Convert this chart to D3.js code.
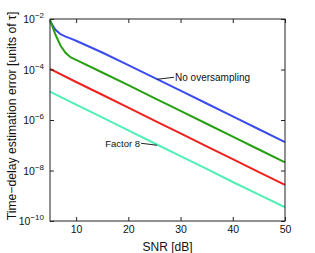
<!DOCTYPE html>
<html>
  <head>
    <meta charset="utf-8">
    <script src="https://cdn.jsdelivr.net/npm/d3@7/dist/d3.min.js"></script>
    <style>
      body { margin: 0; background: #fff; }
      text { font-family: "Liberation Sans", Arial, sans-serif; fill: #111; }
      .axis path, .axis line { stroke: #222; }
    </style>
  </head>
  <body>
    <script>
      // SNR sample points [dB]
      const snrA = [5, 6, 7, 8, 9, 10, 15, 20, 25, 30, 35, 40, 45, 50];
      const snrB = [5, 10, 15, 20, 25, 30, 35, 40, 45, 50];

      const noOversampling = [8.3e-3, 3.8e-3, 2.5e-3, 2.0e-3, 1.66e-3, 1.38e-3, 4.7e-4, 1.48e-4, 4.7e-5, 1.45e-5, 4.5e-6, 1.38e-6, 4.3e-7, 1.32e-7];
      const factor2 = [9.3e-3, 2.5e-3, 8.9e-4, 4.5e-4, 3.0e-4, 2.4e-4, 7.6e-5, 2.4e-5, 7.4e-6, 2.3e-6, 7.1e-7, 2.2e-7, 6.8e-8, 2.1e-8];
      const factor4 = [1.05e-4, 3.2e-5, 1.0e-5, 3.1e-6, 9.5e-7, 2.95e-7, 9.1e-8, 2.8e-8, 8.7e-9, 2.7e-9];
      const factor8 = [1.32e-5, 4.1e-6, 1.26e-6, 3.9e-7, 1.2e-7, 3.7e-8, 1.15e-8, 3.5e-9, 1.1e-9, 3.5e-10];

      const xTicks = [10, 20, 30, 40, 50];
      const yTickExps = [-2, -4, -6, -8, -10];

      const series = [
        {x: snrA, y: noOversampling, color: '#3a4cf0'},
        {x: snrA, y: factor2, color: '#26a010'},
        {x: snrB, y: factor4, color: '#f0201c'},
        {x: snrB, y: factor8, color: '#50f0b4'}
      ];

      const width = 315, height = 253;
      const margin = {left: 50, right: 30, top: 19, bottom: 32};
      const iw = width - margin.left - margin.right;
      const ih = height - margin.top - margin.bottom;

      const x = d3.scaleLinear().domain([5, 50]).range([0, iw]);
      const y = d3.scaleLog().domain([1e-10, 1e-2]).range([ih, 0]);

      const svg = d3.select('body').append('svg')
        .attr('width', width)
        .attr('height', height);

      const g = svg.append('g')
        .attr('transform', `translate(${margin.left},${margin.top})`);

      const line = d3.line()
        .x(d => x(d[0]))
        .y(d => y(d[1]));

      g.selectAll('path.series').data(series)
        .enter()
        .append('path')
        .attr('class', 'series')
        .attr('fill', 'none')
        .attr('stroke', d => d.color)
        .attr('stroke-width', 2)
        .attr('d', d => line(d.x.map((v, i) => [v, d.y[i]])));

      // axes with inward ticks on all four sides
      const tickLen = 4;
      g.append('g').attr('class', 'axis')
        .attr('transform', `translate(0,${ih})`)
        .call(d3.axisBottom(x).tickValues(xTicks).tickSize(-tickLen).tickPadding(5).tickFormat(d3.format('d')))
        .call(a => a.select('.domain').remove())
        .selectAll('text').attr('font-size', 10.5);
      g.append('g').attr('class', 'axis')
        .call(d3.axisTop(x).tickValues(xTicks).tickSize(-tickLen).tickFormat(''))
        .call(a => a.select('.domain').remove());

      const yTicks = yTickExps.map(e => Math.pow(10, e));
      g.append('g').attr('class', 'axis')
        .call(d3.axisLeft(y).tickValues(yTicks).tickSize(-tickLen).tickFormat(''))
        .call(a => a.select('.domain').remove());
      g.append('g').attr('class', 'axis')
        .attr('transform', `translate(${iw},0)`)
        .call(d3.axisRight(y).tickValues(yTicks).tickSize(-tickLen).tickFormat(''))
        .call(a => a.select('.domain').remove());

      g.append('rect')
        .attr('x', 0).attr('y', 0)
        .attr('width', iw).attr('height', ih)
        .attr('fill', 'none')
        .attr('stroke', '#222')
        .attr('stroke-width', 1);

      // y tick labels as 10^e
      const yl = g.append('g');
      yTickExps.forEach(e => {
        const t = yl.append('text')
          .attr('x', -6)
          .attr('y', y(Math.pow(10, e)) + 4)
          .attr('text-anchor', 'end')
          .attr('font-size', 10.5);
        t.append('tspan').text('10');
        t.append('tspan').attr('dy', -5).attr('font-size', 8).text('\u2212' + Math.abs(e));
      });

      // axis titles
      svg.append('text')
        .attr('x', margin.left + iw / 2)
        .attr('y', 251)
        .attr('text-anchor', 'middle')
        .attr('font-size', 12)
        .text('SNR [dB]');
      svg.append('text')
        .attr('transform', `translate(16,${margin.top + ih / 2 - 4}) rotate(-90)`)
        .attr('text-anchor', 'middle')
        .attr('font-size', 12.2)
        .text('Time\u2212delay estimation error [units of \u03c4]');

      // annotations
      const noteA = [25.5, 4.1e-5];
      g.append('line')
        .attr('x1', x(noteA[0])).attr('y1', y(noteA[1]))
        .attr('x2', x(noteA[0]) + 17).attr('y2', y(noteA[1]) - 2)
        .attr('stroke', '#222');
      g.append('text')
        .attr('x', x(noteA[0]) + 18)
        .attr('y', y(noteA[1]) + 2)
        .attr('font-size', 10)
        .text('No oversampling');

      const noteB = [25.5, 1.0e-7];
      g.append('line')
        .attr('x1', x(noteB[0])).attr('y1', y(noteB[1]))
        .attr('x2', x(noteB[0]) - 16).attr('y2', y(noteB[1]) - 2)
        .attr('stroke', '#222');
      g.append('text')
        .attr('x', x(noteB[0]) - 17)
        .attr('y', y(noteB[1]) + 2)
        .attr('text-anchor', 'end')
        .attr('font-size', 9.5)
        .text('Factor 8');
    </script>
  </body>
</html>
